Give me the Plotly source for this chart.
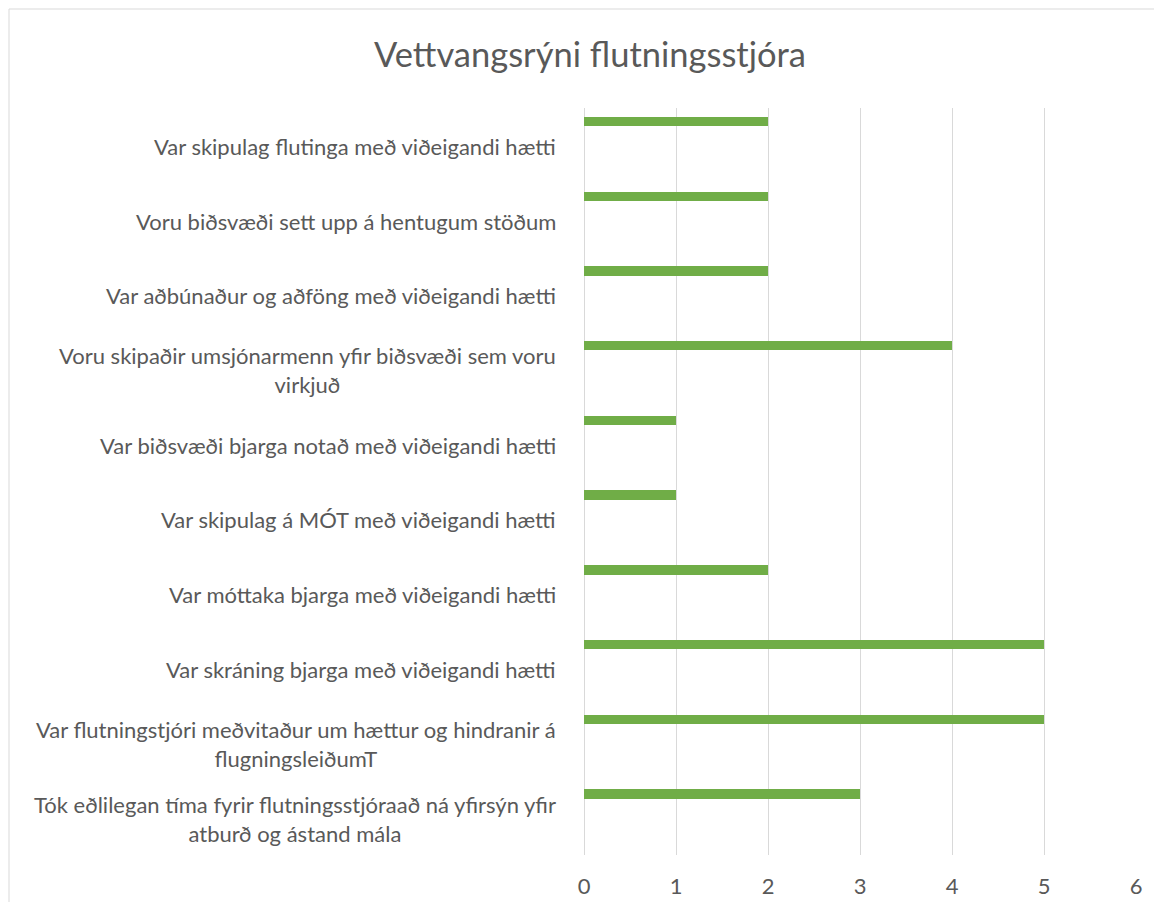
import plotly.graph_objects as go

title = "Vettvangsrýni flutningsstjóra"
categories = [
    "Var skipulag flutinga með viðeigandi hætti",
    "Voru biðsvæði sett upp á hentugum stöðum",
    "Var aðbúnaður og aðföng með viðeigandi hætti",
    "Voru skipaðir umsjónarmenn yfir biðsvæði sem voru<br>virkjuð",
    "Var biðsvæði bjarga notað með viðeigandi hætti",
    "Var skipulag á MÓT með viðeigandi hætti",
    "Var móttaka bjarga með viðeigandi hætti",
    "Var skráning bjarga með viðeigandi hætti",
    "Var flutningstjóri meðvitaður um hættur og hindranir á<br>flugningsleiðumT",
    "Tók eðlilegan tíma fyrir flutningsstjóraað ná yfirsýn yfir<br>atburð og ástand mála",
]
values = [2, 2, 2, 4, 1, 1, 2, 5, 5, 3]
x_ticks = [0, 1, 2, 3, 4, 5, 6]

# page is offset by 8px body margin
OFF = 8
W, H = 1162 - 2 * OFF, 910 - 2 * OFF
L = 584 - OFF
T = 108 - OFF
R = W - (1136 - OFF)
B = H - (855 - OFF)
pw = W - L - R
ph = H - T - B

FONT = "Lato, Carlito, Calibri, sans-serif"
GREY = "#595959"

fig = go.Figure(
    go.Bar(
        x=values,
        y=categories,
        orientation="h",
        marker=dict(color="#70AD47", line=dict(width=0)),
        width=0.125,
        offset=-0.38,
        hoverinfo="x+y",
    )
)

annotations = []
for c in categories:
    annotations.append(
        dict(
            x=(558 - OFF - L) / pw,
            xref="paper",
            y=c,
            yref="y",
            yshift=-1,
            text=c,
            showarrow=False,
            xanchor="right",
            yanchor="middle",
            align="center",
            font=dict(family=FONT, size=22, color=GREY),
        )
    )

fig.update_layout(
    width=W,
    height=H,
    margin=dict(l=L, r=R, t=T, b=B, autoexpand=False),
    paper_bgcolor="white",
    plot_bgcolor="white",
    showlegend=False,
    title=dict(
        text=title,
        x=(590 - OFF) / W,
        xanchor="center",
        y=1 - (55 - OFF) / H,
        yanchor="middle",
        font=dict(family=FONT, size=34.5, color=GREY),
    ),
    xaxis=dict(
        range=[0, 6],
        tickvals=x_ticks,
        showgrid=True,
        gridcolor="#D9D9D9",
        gridwidth=1,
        zeroline=True,
        zerolinecolor="#D9D9D9",
        zerolinewidth=1,
        showline=False,
        ticks="",
        automargin=False,
        ticklabelstandoff=16,
        tickfont=dict(family=FONT, size=22, color=GREY),
        fixedrange=True,
    ),
    yaxis=dict(
        categoryorder="array",
        categoryarray=categories,
        autorange="reversed",
        showticklabels=False,
        showgrid=False,
        zeroline=False,
        showline=False,
        ticks="",
        automargin=False,
        fixedrange=True,
    ),
    annotations=annotations,
    shapes=[
        dict(
            type="rect",
            xref="paper",
            yref="paper",
            x0=(9 - OFF - L) / pw,
            x1=(W + 20 - L) / pw,
            y0=1 + (T - (9 - OFF)) / ph,
            y1=-(B + 20) / ph,
            line=dict(color="#D9D9D9", width=1),
            fillcolor="rgba(0,0,0,0)",
            layer="below",
        )
    ],
    bargap=0,
)

fig.write_html("out.html")
